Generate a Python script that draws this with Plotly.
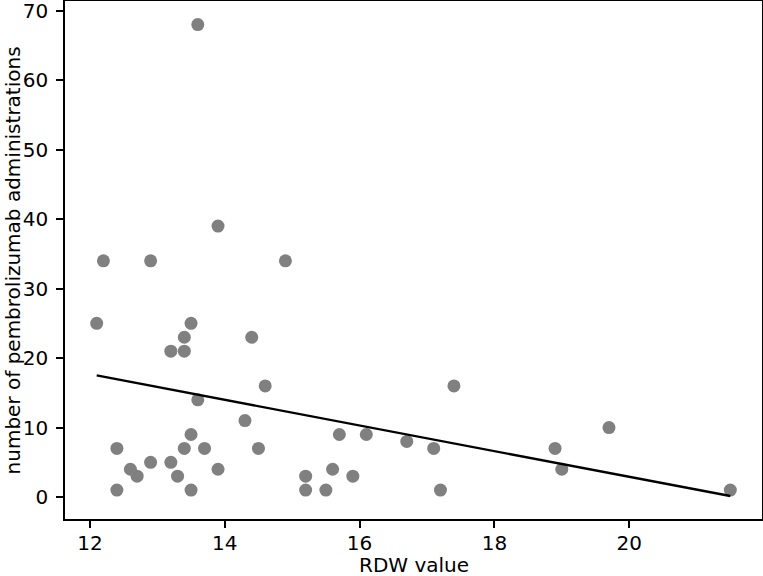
import plotly.graph_objects as go

rdw = [12.1, 12.2, 12.4, 12.4, 12.6, 12.7, 12.9, 12.9, 13.2, 13.2, 13.3, 13.4, 13.4, 13.4,
       13.5, 13.5, 13.5, 13.6, 13.6, 13.7, 13.9, 13.9, 14.3, 14.4, 14.5, 14.6, 14.9, 15.2,
       15.2, 15.5, 15.6, 15.7, 15.9, 16.1, 16.7, 17.1, 17.2, 17.4, 18.9, 19.0, 19.7, 21.5]
admin = [25, 34, 7, 1, 4, 3, 34, 5, 21, 5, 3, 23, 21, 7,
         25, 9, 1, 68, 14, 7, 39, 4, 11, 23, 7, 16, 34, 3,
         1, 1, 4, 9, 3, 9, 8, 7, 1, 16, 7, 4, 10, 1]

fit_x = [12.1, 21.5]
fit_y = [17.5, 0.15]

x_ticks = [12, 14, 16, 18, 20]
y_ticks = [0, 10, 20, 30, 40, 50, 60, 70]

fig = go.Figure()
fig.add_trace(go.Scatter(x=rdw, y=admin, mode="markers",
                         marker=dict(color="#808080", size=13, line=dict(width=0)),
                         showlegend=False))
fig.add_trace(go.Scatter(x=fit_x, y=fit_y, mode="lines",
                         line=dict(color="black", width=2.3), showlegend=False))

font = dict(family="DejaVu Sans", size=20, color="black")
axis_common = dict(showgrid=False, zeroline=False, automargin=False,
                   showline=True, linecolor="black", linewidth=1.6, mirror=True,
                   ticks="outside", ticklen=7, tickcolor="black", tickwidth=1.6,
                   tickfont=font, ticklabeloverflow="allow")
fig.update_layout(
    width=763, height=576,
    margin=dict(l=65, r=1, t=1, b=57),
    paper_bgcolor="white", plot_bgcolor="white",
    font=font,
    xaxis=dict(range=[11.63, 21.97], tickvals=x_ticks, ticklabelstandoff=-2, **axis_common),
    yaxis=dict(range=[-3.16, 71.4], tickvals=y_ticks, ticklabelstandoff=4, **axis_common),
    annotations=[
        dict(text="RDW value", xref="paper", yref="paper", x=0.5, y=-0.088,
             xanchor="center", yanchor="middle", showarrow=False, font=font),
        dict(text="number of pembrolizumab administrations", xref="paper", yref="paper",
             x=-0.074, y=0.5, xanchor="center", yanchor="middle", textangle=-90,
             showarrow=False, font=font),
    ],
)

fig.write_html("out.html", config={"displayModeBar": False},
               post_script="document.body.style.margin='0';document.body.style.overflow='hidden';")
